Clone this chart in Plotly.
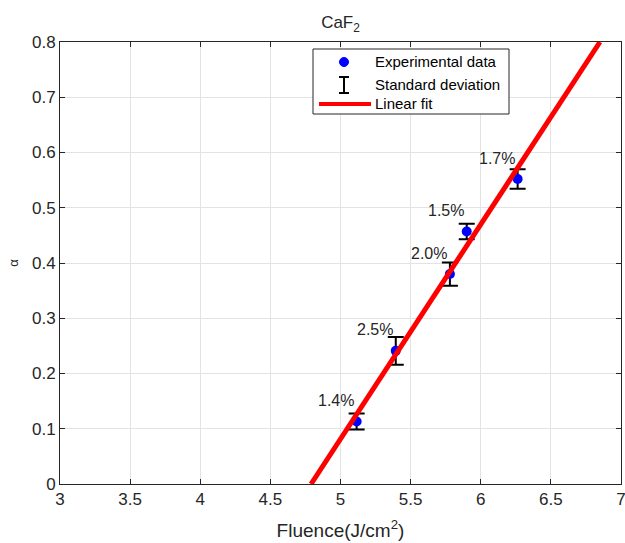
import plotly.graph_objects as go

# Data
fluence = [5.115, 5.394, 5.78, 5.90, 6.263]
alpha = [0.113, 0.241, 0.38, 0.457, 0.552]
alpha_err = [0.0145, 0.025, 0.021, 0.014, 0.0175]
pct_labels = ["1.4%", "2.5%", "2.0%", "1.5%", "1.7%"]

fit_x = [4.79, 6.85]
fit_y = [0.0, 0.8]

x_ticks = [3, 3.5, 4, 4.5, 5, 5.5, 6, 6.5, 7]
y_ticks = [0, 0.1, 0.2, 0.3, 0.4, 0.5, 0.6, 0.7, 0.8]

FONT = "Liberation Sans, Arial, sans-serif"
TXT = "#262626"

FIG_W, FIG_H = 625, 543
L, T = 60, 42          # plot area in pixels
W, H = 561, 442

fig = go.Figure()

fig.add_trace(go.Scatter(
    x=fluence, y=alpha, mode="markers",
    marker=dict(color="#0000ff", size=10),
    error_y=dict(type="data", array=alpha_err, visible=True,
                 color="black", thickness=2, width=8),
    showlegend=False, cliponaxis=False,
))

fig.add_trace(go.Scatter(
    x=fit_x, y=fit_y, mode="lines",
    line=dict(color="#ff0000", width=5),
    showlegend=False,
))

annotations = []
for x, y, t in zip(fluence, alpha, pct_labels):
    annotations.append(dict(x=x, y=y, text=t, showarrow=False,
                            xshift=-21, yshift=21,
                            font=dict(family=FONT, size=16, color=TXT)))


def px(x):
    return (x - L) / W


def py(y):
    return (T + H - y) / H


shapes = [
    dict(type="rect", xref="paper", yref="paper",
         x0=px(313), x1=px(509), y0=py(114), y1=py(49),
         line=dict(color="#262626", width=1), fillcolor="white", layer="above"),
    dict(type="circle", xref="paper", yref="paper",
         x0=px(339.5), x1=px(348.5), y0=py(66.5), y1=py(57.5),
         line=dict(color="#0000ff", width=1), fillcolor="#0000ff", layer="above"),
    dict(type="line", xref="paper", yref="paper",
         x0=px(344), x1=px(344), y0=py(77), y1=py(93),
         line=dict(color="black", width=2), layer="above"),
    dict(type="line", xref="paper", yref="paper",
         x0=px(339), x1=px(349), y0=py(77), y1=py(77),
         line=dict(color="black", width=2), layer="above"),
    dict(type="line", xref="paper", yref="paper",
         x0=px(339), x1=px(349), y0=py(93), y1=py(93),
         line=dict(color="black", width=2), layer="above"),
    dict(type="line", xref="paper", yref="paper",
         x0=px(319), x1=px(371), y0=py(104), y1=py(104),
         line=dict(color="#ff0000", width=4), layer="above"),
]
for ty, t in [(62, "Experimental data"), (84, "Standard deviation"), (104, "Linear fit")]:
    annotations.append(dict(xref="paper", yref="paper", x=px(373), y=py(ty),
                            xanchor="left", yanchor="middle", text=t, showarrow=False,
                            font=dict(family=FONT, size=15, color="black")))

fig.update_layout(
    width=FIG_W, height=FIG_H,
    margin=dict(l=L, r=FIG_W - (L + W), t=T, b=FIG_H - T - H, autoexpand=False),
    paper_bgcolor="white", plot_bgcolor="white",
    font=dict(family=FONT, size=17, color=TXT),
    title=dict(text="CaF<sub>2</sub>", x=(L + W / 2) / FIG_W, xanchor="center",
               y=1 - 22 / FIG_H, yanchor="middle",
               font=dict(family=FONT, size=17, color=TXT)),
    xaxis=dict(range=[3, 7], tickvals=x_ticks, ticktext=[f"{v:g}" for v in x_ticks],
               showgrid=True, gridcolor="#e3e3e3", gridwidth=1,
               showline=True, linecolor="#262626", linewidth=1, mirror="ticks",
               ticks="inside", ticklen=5, tickcolor="#262626",
               zeroline=False, automargin=False, ticklabeloverflow="allow",
               tickfont=dict(family=FONT, size=17, color=TXT),
               title=dict(text="Fluence(J/cm<sup>2</sup>)", standoff=15,
                          font=dict(family=FONT, size=19, color=TXT))),
    yaxis=dict(range=[0, 0.8], tickvals=y_ticks, ticktext=[f"{v:g}" for v in y_ticks],
               showgrid=True, gridcolor="#e3e3e3", gridwidth=1,
               showline=True, linecolor="#262626", linewidth=1, mirror="ticks",
               ticks="inside", ticklen=5, tickcolor="#262626",
               zeroline=False, automargin=False,
               tickfont=dict(family=FONT, size=17, color=TXT),
               title=dict(text="α", standoff=10,
                          font=dict(family=FONT, size=13, color=TXT))),
    shapes=shapes,
    annotations=annotations,
)

fig.write_html(
    "out.html",
    config={"displayModeBar": False},
    post_script=("document.body.style.margin='0';"
                 "document.body.style.overflow='hidden';"
                 "document.documentElement.style.overflow='hidden';"),
)
